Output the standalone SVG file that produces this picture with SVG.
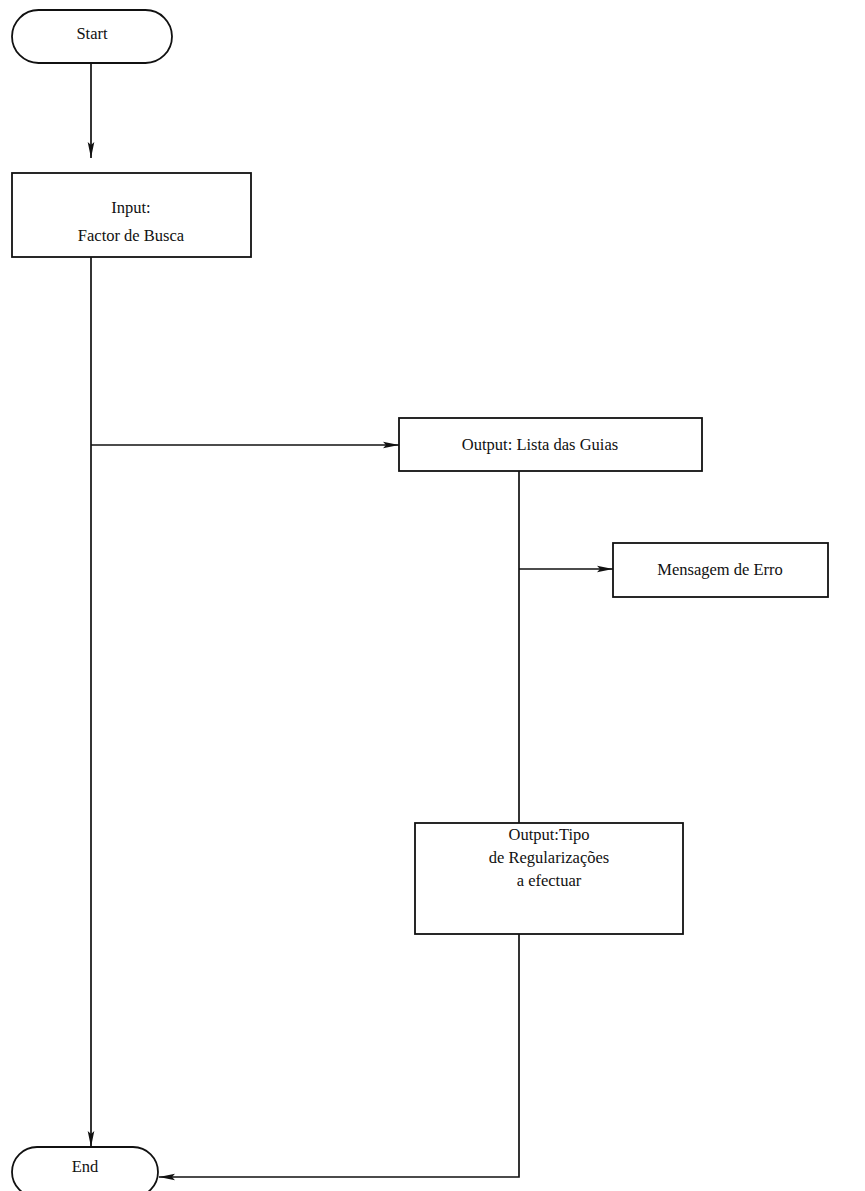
<svg xmlns="http://www.w3.org/2000/svg" width="865" height="1191" viewBox="0 0 865 1191">
  <style>
    .shape { fill: #ffffff; stroke: #111111; stroke-width: 1.8; }
    .label { font-family: "Liberation Serif", "Times New Roman", serif; font-size: 16.5px; fill: #111111; text-anchor: middle; }
    .wire { fill: none; stroke: #111111; stroke-width: 1.7; }
  </style>
  <defs>
    <marker id="arrow" viewBox="0 0 16 9" refX="16" refY="4.5" markerWidth="16" markerHeight="9" markerUnits="userSpaceOnUse" orient="auto">
      <path d="M0,1.2 L16,4.5 L0,7.8 L3,4.5 Z" fill="#111111"/>
    </marker>
  </defs>
  <rect width="865" height="1191" fill="#ffffff"/>

  <g id="connectors">
    <path class="wire" d="M91,63 L91,158" marker-end="url(#arrow)"/>
    <path class="wire" d="M91,257 L91,1147" marker-end="url(#arrow)"/>
    <path class="wire" d="M91,445 L399,445" marker-end="url(#arrow)"/>
    <path class="wire" d="M519,471 L519,823"/>
    <path class="wire" d="M519,569 L613,569" marker-end="url(#arrow)"/>
    <path class="wire" d="M519,934 L519,1177 L159,1177" marker-end="url(#arrow)"/>
  </g>

  <g id="start">
    <rect class="shape" x="12" y="10" width="160" height="53" rx="26.5" ry="26.5"/>
    <text class="label" x="92" y="39">Start</text>
  </g>

  <g id="input">
    <rect class="shape" x="12" y="173" width="239" height="84"/>
    <text class="label" x="131" y="213">Input:</text>
    <text class="label" x="131" y="241">Factor de Busca</text>
  </g>

  <g id="lista">
    <rect class="shape" x="399" y="418" width="303" height="53"/>
    <text class="label" x="540" y="450">Output: Lista das Guias</text>
  </g>

  <g id="erro">
    <rect class="shape" x="613" y="543" width="215" height="54"/>
    <text class="label" x="720" y="575">Mensagem de Erro</text>
  </g>

  <g id="tipo">
    <rect class="shape" x="415" y="823" width="268" height="111"/>
    <text class="label" x="549" y="840">Output:Tipo</text>
    <text class="label" x="549" y="863">de Regularizações</text>
    <text class="label" x="549" y="886">a efectuar</text>
  </g>

  <g id="end">
    <rect class="shape" x="12" y="1147" width="146" height="50" rx="25" ry="25"/>
    <text class="label" x="85" y="1172">End</text>
  </g>
</svg>
